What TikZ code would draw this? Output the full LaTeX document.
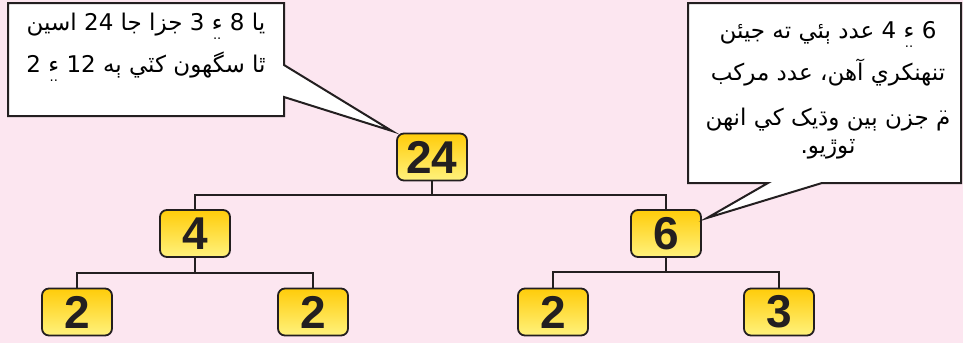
\documentclass[tikz,border=0pt]{standalone}
\usepackage{fontspec}
\usepackage{graphicx}
\setmainfont{Liberation Sans}
\newfontfamily\sindhi[Script=Arabic]{DejaVu Sans}
\definecolor{pinkbg}{RGB}{252,230,240}
\definecolor{edge}{RGB}{35,31,32}
\definecolor{boxtop}{RGB}{255,204,10}
\definecolor{boxbot}{RGB}{255,242,125}
% Sindhi signs that DejaVu Sans lacks, built from hamza / meem and two dots
\newcommand{\sdamp}{\ooalign{ء\cr\hidewidth\raisebox{-0.4em}{\fontsize{13}{13}\selectfont..}\hidewidth\cr}}
\newcommand{\sdmen}{\ooalign{م\cr\hidewidth\raisebox{0.55em}{\fontsize{13}{13}\selectfont..}\hidewidth\cr}}
\begin{document}
\begin{tikzpicture}[x=1pt, y=-1pt,
    num/.style={draw=edge, line width=1.8pt, rounded corners=7pt, minimum width=70pt, minimum height=47pt, inner sep=0pt, top color=boxtop, bottom color=boxbot, text=edge, font=\fontsize{46}{46}\selectfont\bfseries},
    link/.style={draw=edge, line width=2pt},
    bubble/.style={draw=edge, line width=2pt, fill=white, line join=miter},
    say/.style={align=center, inner sep=0pt, anchor=base, text=black, font=\sindhi\fontsize{23}{42}\selectfont}]
    % Background
    \fill[pinkbg] (0,0) rectangle (963,343);
    \useasboundingbox (0,0) rectangle (963,343);
    % Factor boxes
    \node[num] (n24) at (432,157) {24};
    \node[num] (n4) at (195,233.5) {4};
    \node[num] (n6) at (666,233.5) {6};
    \node[num] (a2) at (77,312) {2};
    \node[num] (b2) at (313,312) {2};
    \node[num] (c2) at (553,312) {2};
    \node[num] (d3) at (779,312) {3};
    % Branches
    \coordinate (top) at (432,195);
    \coordinate (lft) at (195,273);
    \coordinate (rgt) at (666,272);
    \draw[link] (n24.south) -- (top);
    \draw[link] (n4.north) |- (top) -| (n6.north);
    \draw[link] (n4.south) -- (lft);
    \draw[link] (a2.north) |- (lft) -| (b2.north);
    \draw[link] (n6.south) -- (rgt);
    \draw[link] (c2.north) |- (rgt) -| (d3.north);
    % Speech bubbles (base anchor = last line)
    \coordinate (tipL) at (392,131);
    \coordinate (tipR) at (707,218);
    \draw[bubble] (8,3) -- (284,3) -- (284,65) -- (tipL) -- (284,97) -- (284,116) -- (8,116) -- cycle;
    \draw[bubble] (688,3) -- (961,3) -- (961,183) -- (822,183) -- (tipR) -- (768,183) -- (688,183) -- cycle;
    \node[say] (saidL) at (146,72) {اسين 24 جا جزا 3 \sdamp{} 8 يا\\2 \sdamp{} 12 ٻه کٽي سگھون ٿا};
    \node[say] (saidR) at (828,153) {جيئن ته ٻئي عدد 4 \sdamp{} 6\\مرکب عدد آهن، تنهنکري\\[3pt]انهن کي وڌيک ٻين جزن \sdmen\\[-14pt]ٽوڙيو.};
\end{tikzpicture}
\end{document}
